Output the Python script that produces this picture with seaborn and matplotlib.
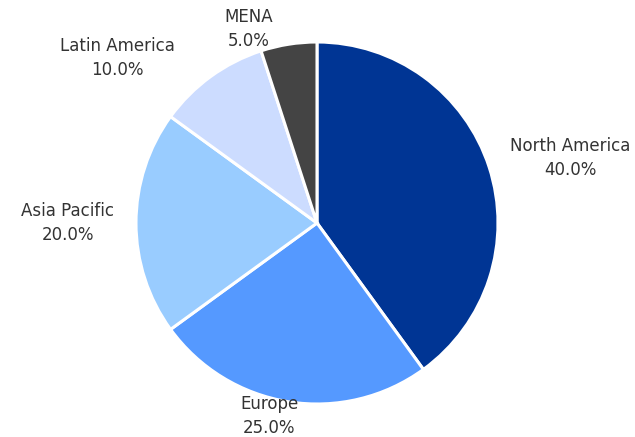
import matplotlib
matplotlib.use("Agg")
import matplotlib.pyplot as plt
import seaborn as sns

regions = ["North America", "Europe", "Asia Pacific", "Latin America", "MENA"]
shares = [40.0, 25.0, 20.0, 10.0, 5.0]
colors = ["#003594", "#5599ff", "#99ccff", "#ccdcff", "#444444"]

# small label nudges (axes-radius units), style only
label_nudge = [(0.02, 0.02), (0.07, 0.02), (-0.02, 0.0), (-0.14, 0.02), (-0.07, -0.015)]

sns.set_theme(style="white")
plt.rcParams['font.family'] = ['DejaVu Sans']

fig = plt.figure(figsize=(6.35, 4.37), dpi=100)
W, H = 635, 437
cx, cy, r = 317, 437 - 223, 181
ax = fig.add_axes([(cx - r) / W, (cy - r) / H, 2 * r / W, 2 * r / H])

labels = [f"{n}\n{v:.1f}%" for n, v in zip(regions, shares)]
wedges, texts = ax.pie(
    shares, labels=labels, colors=colors, startangle=90, counterclock=False,
    labeldistance=1.1,
    wedgeprops=dict(edgecolor="white", linewidth=2.2),
    textprops=dict(color="#333333", fontsize=12, multialignment="center", linespacing=1.45),
)
ax.set_xlim(-1, 1)
ax.set_ylim(-1, 1)
ax.set_aspect("equal")
for w in wedges:
    w.set_clip_on(False)
for t, (dx, dy) in zip(texts, label_nudge):
    x, y = t.get_position()
    t.set_position((x + dx, y + dy))
    t.set_clip_on(False)

fig.savefig("out.png", dpi=100)
